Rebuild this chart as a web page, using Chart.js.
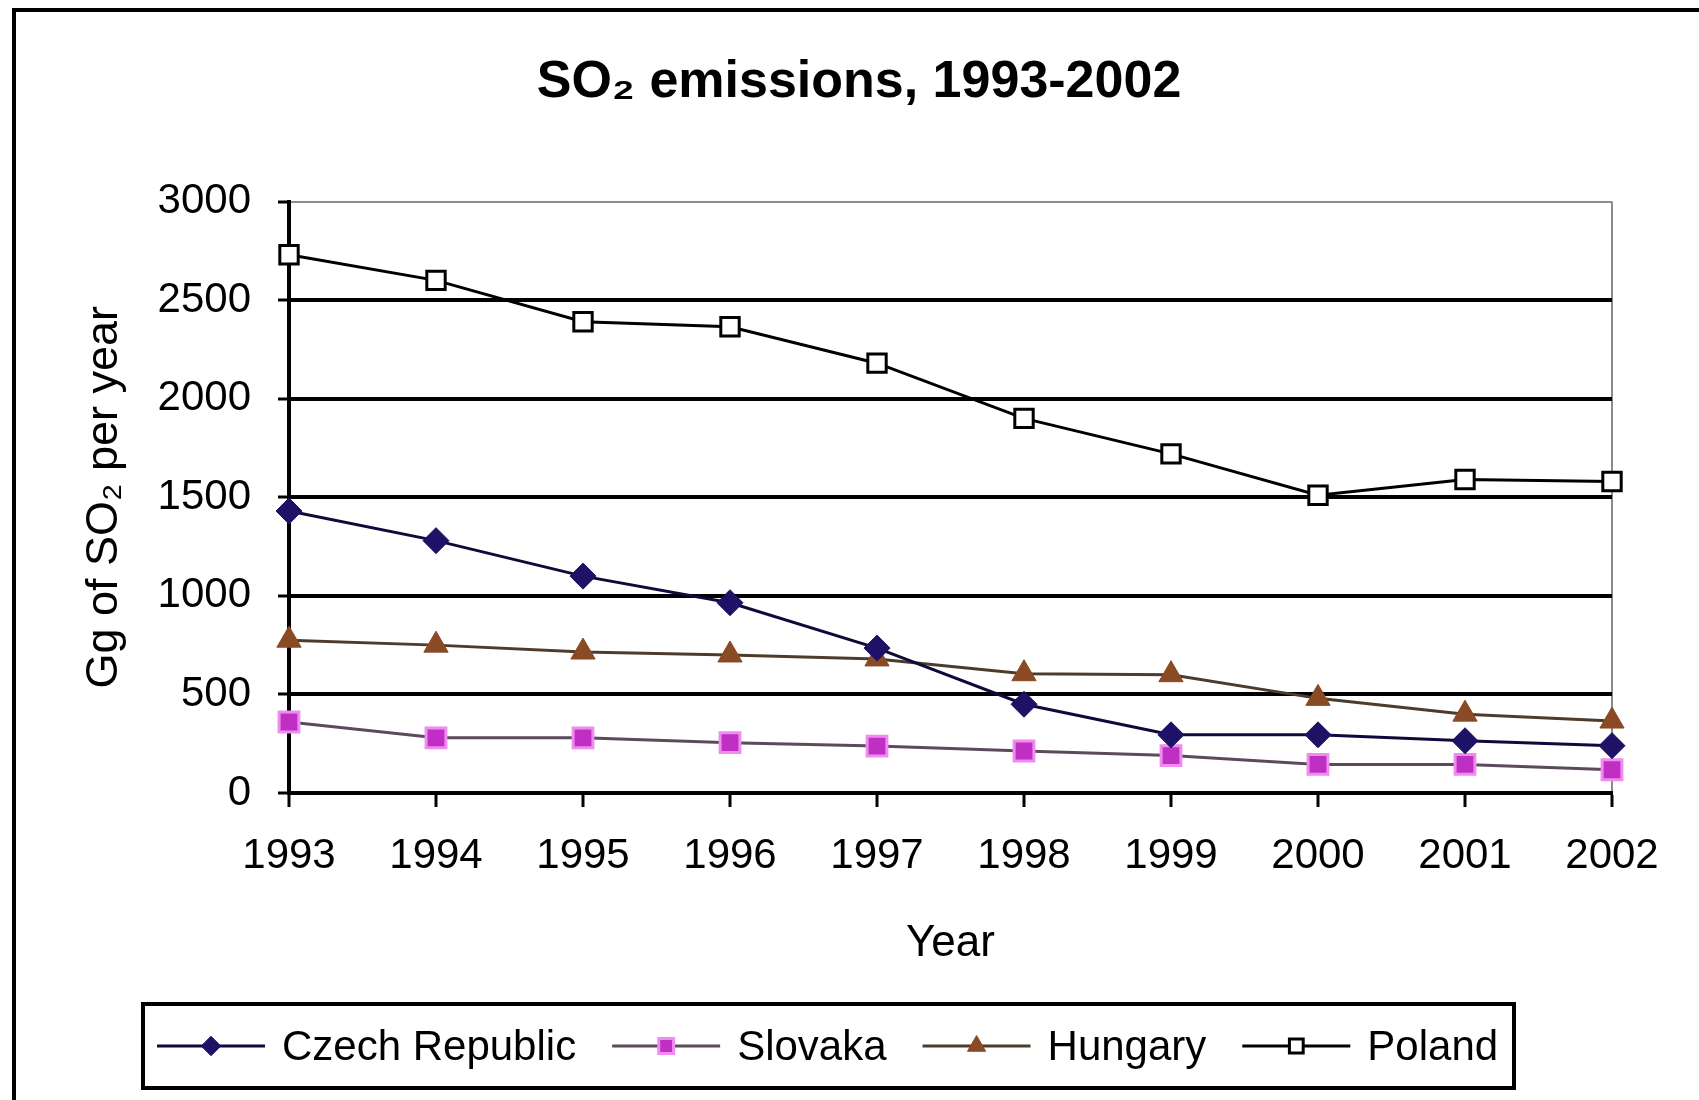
<!DOCTYPE html>
<html>
<head>
<meta charset="utf-8">
<title>SO2 emissions, 1993-2002</title>
<script src="https://cdn.jsdelivr.net/npm/chart.js@4.4.1/dist/chart.umd.min.js"></script>
<style>
  html, body { margin: 0; padding: 0; background: #ffffff; }
  #wrap { width: 1699px; height: 1100px; }
</style>
</head>
<body>
<div id="wrap"><canvas id="c" width="1699" height="1100"></canvas></div>
<script>
// Years on the horizontal axis
const years = ['1993', '1994', '1995', '1996', '1997', '1998', '1999', '2000', '2001', '2002'];

// Annual SO2 emissions, Gg per year
const czechRepublic = [1430, 1280, 1100, 965, 735, 450, 295, 295, 265, 240];
const slovaka       = [360, 280, 280, 255, 238, 213, 190, 145, 145, 118];
const hungary       = [775, 750, 715, 700, 680, 605, 600, 480, 400, 365];
const poland        = [2730, 2600, 2390, 2365, 2180, 1900, 1720, 1510, 1590, 1580];

const seriesNames = ['Czech Republic', 'Slovaka', 'Hungary', 'Poland'];

// Value axis range and step
const yMin = 0;
const yMax = 3000;
const yStep = 500;

const FONT = '"Liberation Sans", Arial, Helvetica, sans-serif';

// White page with the black frame around the figure
const framePlugin = {
  id: 'frame',
  beforeDraw(chart) {
    const ctx = chart.ctx;
    ctx.save();
    ctx.fillStyle = '#ffffff';
    ctx.fillRect(0, 0, chart.width, chart.height);
    ctx.strokeStyle = '#000000';
    ctx.lineWidth = 4;
    ctx.strokeRect(14, 10, chart.width + 40, chart.height + 40);
    ctx.restore();
  }
};

// Legend drawn in a single boxed row under the plot
const boxedLegend = {
  id: 'boxedLegend',
  afterDraw(chart, args, opts) {
    const ctx = chart.ctx;
    ctx.save();
    ctx.strokeStyle = '#000000';
    ctx.lineWidth = 4;
    ctx.strokeRect(opts.left, opts.top, opts.width, opts.height);
    const y = opts.top + opts.height / 2;
    let x = opts.left + 14;
    ctx.font = opts.fontSize + 'px ' + FONT;
    ctx.textBaseline = 'middle';
    ctx.textAlign = 'left';
    chart.data.datasets.forEach(ds => {
      ctx.strokeStyle = ds.borderColor;
      ctx.lineWidth = ds.borderWidth;
      ctx.beginPath();
      ctx.moveTo(x, y);
      ctx.lineTo(x + opts.sampleWidth, y);
      ctx.stroke();
      ctx.fillStyle = ds.pointBackgroundColor;
      ctx.strokeStyle = ds.pointBorderColor;
      ctx.lineWidth = ds.pointBorderWidth;
      Chart.helpers.drawPoint(ctx, {
        pointStyle: ds.pointStyle,
        radius: ds.pointRadius * opts.markerScale,
        rotation: 0,
        borderWidth: ds.pointBorderWidth
      }, x + opts.sampleWidth / 2, y);
      x += opts.sampleWidth + 17;
      ctx.fillStyle = '#000000';
      ctx.fillText(ds.label, x, y + 2);
      x += ctx.measureText(ds.label).width + opts.itemGap;
    });
    ctx.restore();
  }
};

const ctx = document.getElementById('c').getContext('2d');

new Chart(ctx, {
  type: 'line',
  data: {
    labels: years,
    datasets: [
      {
        label: seriesNames[0],
        data: czechRepublic,
        borderColor: '#0d0b3a',
        borderWidth: 3,
        pointStyle: 'rectRot',
        pointRadius: 13,
        pointBackgroundColor: '#1d1266',
        pointBorderColor: '#1d1266',
        pointBorderWidth: 1,
        tension: 0,
        clip: false
      },
      {
        label: seriesNames[1],
        data: slovaka,
        borderColor: '#5b4a5b',
        borderWidth: 3,
        pointStyle: 'rect',
        pointRadius: 14,
        pointBackgroundColor: '#c02fc4',
        pointBorderColor: '#f08cf0',
        pointBorderWidth: 3,
        tension: 0,
        clip: false
      },
      {
        label: seriesNames[2],
        data: hungary,
        borderColor: '#4d3b2b',
        borderWidth: 3,
        pointStyle: 'triangle',
        pointRadius: 14,
        pointBackgroundColor: '#8a4a24',
        pointBorderColor: '#8a4a24',
        pointBorderWidth: 1,
        tension: 0,
        clip: false
      },
      {
        label: seriesNames[3],
        data: poland,
        borderColor: '#000000',
        borderWidth: 3,
        pointStyle: 'rect',
        pointRadius: 13,
        pointBackgroundColor: '#ffffff',
        pointBorderColor: '#000000',
        pointBorderWidth: 3,
        tension: 0,
        clip: false
      }
    ]
  },
  options: {
    responsive: false,
    animation: false,
    devicePixelRatio: 1,
    layout: { padding: { left: 106, right: 87, top: 0, bottom: 127 } },
    plugins: {
      legend: { display: false },
      tooltip: { enabled: false },
      title: {
        display: true,
        text: 'SO\u2082 emissions, 1993-2002',
        color: '#000000',
        font: { family: FONT, size: 52, weight: 'bold' },
        padding: { top: 51, bottom: 88.1 }
      },
      boxedLegend: {
        left: 143, top: 1004, width: 1371, height: 84,
        sampleWidth: 108, fontSize: 42, itemGap: 36, markerScale: 0.75
      }
    },
    scales: {
      x: {
        type: 'category',
        offset: false,
        afterFit(scale) { scale.height = 180; },
        border: { display: true, color: '#000000', width: 4 },
        grid: {
          drawOnChartArea: true,
          drawTicks: true,
          tickLength: 14,
          tickWidth: 3,
          tickColor: '#000000',
          color: c => (c.index === years.length - 1 ? '#8c8c8c' : 'rgba(0,0,0,0)'),
          lineWidth: 2
        },
        ticks: {
          color: '#000000',
          padding: 24,
          maxRotation: 0,
          autoSkip: false,
          font: { family: FONT, size: 42 }
        },
        title: {
          display: true,
          text: 'Year',
          color: '#000000',
          font: { family: FONT, size: 44 },
          padding: { top: 0, bottom: 3 }
        }
      },
      y: {
        min: yMin,
        max: yMax,
        afterFit(scale) { scale.width = 183; },
        border: { display: true, color: '#000000', width: 4 },
        grid: {
          drawTicks: true,
          tickLength: 11,
          tickWidth: 3,
          tickColor: '#000000',
          color: c => (c.tick && c.tick.value === yMax ? '#8c8c8c' : '#000000'),
          lineWidth: c => (c.tick && c.tick.value === yMax ? 2 : 4)
        },
        ticks: {
          stepSize: yStep,
          color: '#000000',
          padding: 27,
          font: { family: FONT, size: 42 },
          callback: v => String(v)
        },
        title: {
          display: true,
          text: 'Gg of SO\u2082 per year',
          color: '#000000',
          font: { family: FONT, size: 45 },
          padding: { top: -28, bottom: 0 }
        }
      }
    }
  },
  plugins: [framePlugin, boxedLegend]
});
</script>
</body>
</html>
